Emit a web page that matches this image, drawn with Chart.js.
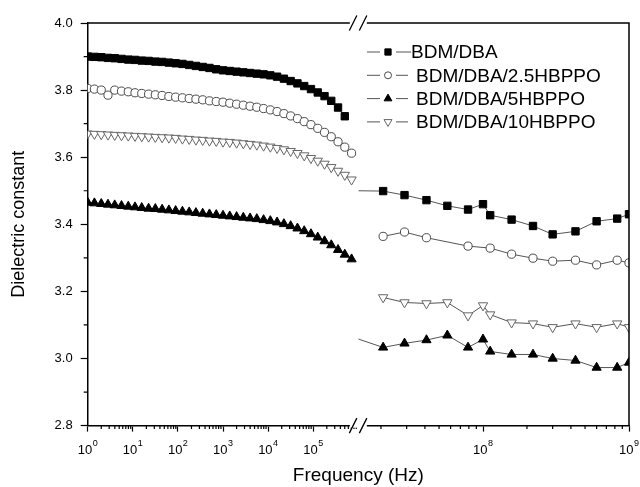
<!DOCTYPE html>
<html>
<head>
<meta charset="utf-8">
<title>Dielectric constant vs frequency</title>
<script src="https://cdn.jsdelivr.net/npm/chart.js@4.4.1/dist/chart.umd.min.js"></script>
<style>
  html, body { margin: 0; padding: 0; background: #fff; }
  #wrap { width: 640px; height: 487px; }
</style>
</head>
<body>
<div id="wrap"><canvas id="chart" width="640" height="487"></canvas></div>
<script>
// ---- data ----
const seriesLabels = ['BDM/DBA', 'BDM/DBA/2.5HBPPO', 'BDM/DBA/5HBPPO', 'BDM/DBA/10HBPPO'];

// low frequency sweep (Hz) - left part of the broken axis
const lowFreq = [1, 1.41, 2, 2.82, 3.98, 5.62, 7.94, 11.2, 15.8, 22.4,
  31.6, 44.7, 63.1, 89.1, 126, 178, 251, 355, 501, 708,
  1000, 1410, 2000, 2820, 3980, 5620, 7940, 11200, 15800, 22400,
  31600, 44700, 63100, 89100, 126000, 178000, 251000, 355000, 501000, 708000];

const lowBDM = [3.900, 3.899, 3.898, 3.896, 3.895, 3.893, 3.891, 3.890, 3.888, 3.887,
  3.885, 3.884, 3.882, 3.880, 3.878, 3.875, 3.872, 3.869, 3.866, 3.862,
  3.859, 3.857, 3.855, 3.853, 3.851, 3.849, 3.847, 3.844, 3.840, 3.834,
  3.827, 3.820, 3.812, 3.803, 3.793, 3.782, 3.768, 3.748, 3.722];
const low25 = [3.805, 3.803, 3.800, 3.785, 3.800, 3.797, 3.795, 3.792, 3.790, 3.788,
  3.786, 3.784, 3.781, 3.779, 3.777, 3.775, 3.773, 3.771, 3.768, 3.766,
  3.764, 3.761, 3.758, 3.755, 3.752, 3.749, 3.745, 3.741, 3.736, 3.730,
  3.723, 3.715, 3.706, 3.697, 3.686, 3.674, 3.661, 3.646, 3.630, 3.612];
const low5 = [3.465, 3.463, 3.461, 3.459, 3.457, 3.455, 3.453, 3.451, 3.449, 3.447,
  3.446, 3.444, 3.442, 3.440, 3.438, 3.436, 3.434, 3.432, 3.430, 3.428,
  3.426, 3.424, 3.422, 3.420, 3.418, 3.416, 3.413, 3.410, 3.406, 3.401,
  3.395, 3.388, 3.380, 3.371, 3.361, 3.350, 3.338, 3.324, 3.310, 3.296];
const low10 = [3.670, 3.669, 3.668, 3.667, 3.666, 3.665, 3.664, 3.663, 3.662, 3.661,
  3.660, 3.659, 3.658, 3.657, 3.655, 3.654, 3.652, 3.651, 3.649, 3.648,
  3.646, 3.645, 3.643, 3.641, 3.639, 3.637, 3.634, 3.631, 3.627, 3.623,
  3.618, 3.612, 3.605, 3.597, 3.589, 3.580, 3.570, 3.559, 3.547, 3.533];

// high frequency sweep (Hz) - right part of the broken axis
const highFreq = [2.07e7, 2.9e7, 4.1e7, 5.7e7, 7.9e7, 1.0e8, 1.12e8, 1.57e8, 2.2e8, 3.0e8, 4.3e8, 6.0e8, 8.3e8, 1.0e9];
const highFreq25 = [2.07e7, 2.9e7, 4.1e7, 7.9e7, 1.12e8, 1.57e8, 2.2e8, 3.0e8, 4.3e8, 6.0e8, 8.3e8, 1.0e9];
const highBDM = [3.499, 3.487, 3.472, 3.455, 3.444, 3.460, 3.427, 3.414, 3.395, 3.370, 3.379, 3.409, 3.417, 3.430];
const high25 = [3.364, 3.377, 3.360, 3.335, 3.329, 3.311, 3.299, 3.290, 3.293, 3.279, 3.293, 3.285];
const high5 = [3.033, 3.045, 3.055, 3.069, 3.033, 3.057, 3.021, 3.012, 3.012, 3.000, 2.994, 2.973, 2.973, 2.988];
const high10 = [3.182, 3.167, 3.164, 3.167, 3.128, 3.158, 3.131, 3.107, 3.104, 3.093, 3.104, 3.093, 3.104, 3.093];

// points hidden in the axis break (only their line stub shows)
const edgeFreq = 1.4e7;
const edgeBDM = 3.500;
const edge5 = 3.058;

// axis ranges / ticks
const lowRange = [1, 1e6];
const highRange = [1.4e7, 1e9];
const lowDecades = [1, 10, 100, 1e3, 1e4, 1e5];
const highDecades = [1e8, 1e9];
const yRange = [2.8, 4.0];
const yMinor = [2.9, 3.1, 3.3, 3.5, 3.7, 3.9];

// ---- helpers ----
const FONT = '"Liberation Sans", Arial, Helvetica, sans-serif';
Chart.defaults.font.family = FONT;
Chart.defaults.color = '#000';

const SUP = ['⁰', '¹', '²', '³', '⁴', '⁵', '⁶', '⁷', '⁸', '⁹'];
function powLabel(v) {
  const e = Math.round(Math.log10(v));
  return '10' + String(e).split('').map(d => SUP[+d]).join('');
}
function pts(freqs, vals) { return freqs.map((f, i) => ({ x: f, y: vals[i] })); }

const markers = [
  { style: 'rect', rot: 0, r: 5.2, fill: '#000', stroke: '#000', bw: 1 },
  { style: 'circle', rot: 0, r: 4.1, fill: '#fff', stroke: '#4a4a4a', bw: 1 },
  { style: 'triangle', rot: 0, r: 5.3, fill: '#000', stroke: '#000', bw: 1 },
  { style: 'triangle', rot: 180, r: 5.4, fill: '#fff', stroke: '#666', bw: 1 },
];

function ds(i, axis, data) {
  const m = markers[i];
  return {
    label: seriesLabels[i], xAxisID: axis, yAxisID: 'y', data,
    borderColor: '#555', borderWidth: 1, tension: 0, fill: false,
    pointStyle: m.style, pointRotation: m.rot,
    pointRadius: c => (c.raw && c.raw.x === edgeFreq) ? 0 : m.r,
    pointHoverRadius: 0,
    pointBackgroundColor: m.fill, pointBorderColor: m.stroke, pointBorderWidth: m.bw,
  };
}

const datasets = [
  ds(0, 'xl', pts(lowFreq, lowBDM)),
  ds(1, 'xl', pts(lowFreq, low25)),
  ds(2, 'xl', pts(lowFreq, low5)),
  ds(3, 'xl', pts(lowFreq, low10)),
  ds(0, 'xr', [{ x: edgeFreq, y: edgeBDM }].concat(pts(highFreq, highBDM))),
  ds(1, 'xr', pts(highFreq25, high25)),
  ds(2, 'xr', [{ x: edgeFreq, y: edge5 }].concat(pts(highFreq, high5))),
  ds(3, 'xr', pts(highFreq, high10)),
];

// ---- plugins ----
function drawMarker(ctx, m, x, y) {
  const r = m.r;
  ctx.beginPath();
  if (m.style === 'rect') {
    const h = r * Math.SQRT1_2;
    ctx.rect(x - h, y - h, 2 * h, 2 * h);
  } else if (m.style === 'circle') {
    ctx.arc(x, y, r, 0, Math.PI * 2);
  } else {
    const s = m.rot ? -1 : 1;
    ctx.moveTo(x, y - s * r);
    ctx.lineTo(x + r * 0.866, y + s * r / 2);
    ctx.lineTo(x - r * 0.866, y + s * r / 2);
    ctx.closePath();
  }
  ctx.fillStyle = m.fill; ctx.fill();
  ctx.strokeStyle = m.stroke; ctx.lineWidth = m.bw; ctx.stroke();
}

const legendPlugin = {
  id: 'cornerLegend',
  afterDraw(chart) {
    const { ctx } = chart;
    ctx.save();
    ctx.font = '19px ' + FONT;
    ctx.textBaseline = 'middle';
    seriesLabels.forEach((label, i) => {
      const y = 52 + i * 23.3;
      ctx.strokeStyle = '#555'; ctx.lineWidth = 1;
      ctx.beginPath();
      ctx.moveTo(367, y); ctx.lineTo(380, y);
      ctx.moveTo(396, y); ctx.lineTo(i === 0 ? 411 : 408, y);
      ctx.stroke();
      drawMarker(ctx, Object.assign({}, markers[i], { r: markers[i].r * 0.85 }), 388, y);
      ctx.fillStyle = '#000';
      ctx.fillText(label, i === 0 ? 411 : 416, y + 1);
    });
    ctx.restore();
  }
};

// "10" with a raised exponent under each decade tick
const powTickPlugin = {
  id: 'powTicks',
  afterDraw(chart) {
    const { ctx, chartArea: a, scales } = chart;
    ctx.save();
    ctx.fillStyle = '#000';
    ctx.textBaseline = 'alphabetic';
    ctx.textAlign = 'left';
    ['xl', 'xr'].forEach(id => {
      const sc = scales[id];
      sc.ticks.forEach(t => {
        const e = String(Math.round(Math.log10(t.value)));
        ctx.font = '13px ' + FONT;
        const wb = ctx.measureText('10').width;
        ctx.font = '9px ' + FONT;
        const we = ctx.measureText(e).width;
        const x0 = sc.getPixelForValue(t.value) - (wb + we + 0.5) / 2;
        ctx.font = '13px ' + FONT;
        ctx.fillText('10', x0, a.bottom + 28);
        ctx.font = '9px ' + FONT;
        ctx.fillText(e, x0 + wb + 0.5, a.bottom + 20);
      });
    });
    ctx.restore();
  }
};

const framePlugin = {
  id: 'frameAndBreak',
  afterDraw(chart) {
    const { ctx, chartArea: a, scales } = chart;
    ctx.save();
    // minor ticks
    ctx.strokeStyle = '#000'; ctx.lineWidth = 1.2;
    ctx.beginPath();
    [['xl', [1, 10, 100, 1e3, 1e4, 1e5]], ['xr', [1e7, 1e8]]].forEach(([id, decs]) => {
      const sc = scales[id];
      decs.forEach(d => {
        for (let k = 2; k <= 9; k++) {
          const v = d * k;
          if (v <= sc.min || v >= sc.max) continue;
          const px = sc.getPixelForValue(v);
          ctx.moveTo(px, a.bottom); ctx.lineTo(px, a.bottom + 3.5);
        }
      });
    });
    yMinor.forEach(v => {
      const py = scales.y.getPixelForValue(v);
      ctx.moveTo(a.left, py); ctx.lineTo(a.left - 4, py);
    });
    ctx.stroke();
    // top and right frame
    ctx.lineWidth = 1.5;
    ctx.beginPath();
    ctx.moveTo(a.left, a.top); ctx.lineTo(a.right, a.top); ctx.lineTo(a.right, a.bottom);
    ctx.stroke();
    // axis break marks
    const bx = scales.xl.right;
    [a.top, a.bottom].forEach(yy => {
      ctx.fillStyle = '#fff';
      ctx.fillRect(bx - 8.5, yy - 2, 17, 4);
      ctx.strokeStyle = '#000'; ctx.lineWidth = 1.3;
      ctx.beginPath();
      ctx.moveTo(bx - 9, yy + 7.5); ctx.lineTo(bx - 1.5, yy - 7.5);
      ctx.moveTo(bx + 1, yy + 7.5); ctx.lineTo(bx + 8.5, yy - 7.5);
      ctx.stroke();
    });
    ctx.restore();
  }
};

// ---- chart ----
const xAxisBase = {
  type: 'logarithmic', position: 'bottom', stack: 'freq', stackWeight: 1,
  grid: { display: true, drawOnChartArea: false, drawTicks: true, tickLength: 6, tickColor: '#000', tickWidth: 1.2 },
  border: { display: true, color: '#000', width: 1.5 },
  // labels keep their space here; powTickPlugin paints them with a real superscript
  ticks: { autoSkip: false, maxRotation: 0, minRotation: 0, padding: 8, color: 'rgba(0,0,0,0)', font: { size: 13 }, callback: v => powLabel(v) },
  // let the last label hang into the right margin instead of shrinking the plot
  afterFit: s => { s.paddingRight = 0; },
};

new Chart(document.getElementById('chart'), {
  type: 'line',
  data: { datasets },
  options: {
    responsive: false,
    animation: false,
    events: [],
    layout: { padding: { left: 8, right: 11, top: 23, bottom: 0 } },
    plugins: {
      legend: { display: false },
      tooltip: { enabled: false },
      title: {
        display: true, position: 'bottom', fullSize: false, text: 'Frequency (Hz)', color: '#000',
        font: { size: 19, weight: 'normal' }, padding: { top: 1, bottom: 0 },
      },
    },
    scales: {
      xl: Object.assign({}, xAxisBase, {
        min: lowRange[0], max: lowRange[1],
        afterBuildTicks: s => { s.ticks = lowDecades.map(v => ({ value: v })); },
      }),
      xr: Object.assign({}, xAxisBase, {
        min: highRange[0], max: highRange[1],
        afterBuildTicks: s => { s.ticks = highDecades.map(v => ({ value: v })); },
      }),
      y: {
        type: 'linear', position: 'left', min: yRange[0], max: yRange[1],
        grid: { display: true, drawOnChartArea: false, drawTicks: true, tickLength: 7, tickColor: '#000', tickWidth: 1.2 },
        border: { display: true, color: '#000', width: 1.5 },
        ticks: { stepSize: 0.2, padding: 8, color: '#000', font: { size: 13 }, callback: v => Number(v).toFixed(1) },
        title: { display: true, text: 'Dielectric constant', color: '#000', font: { size: 18, weight: 'normal' }, padding: { top: 0, bottom: 17 } },
      },
    },
  },
  plugins: [framePlugin, legendPlugin, powTickPlugin],
});
</script>
</body>
</html>
